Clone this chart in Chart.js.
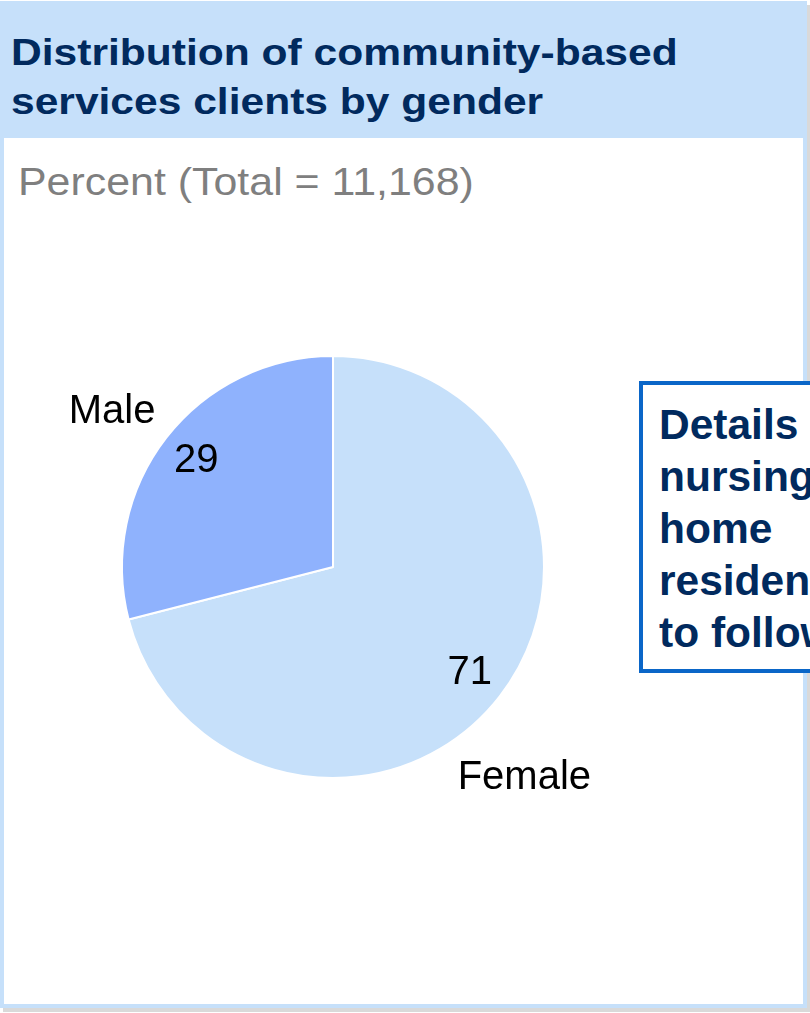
<!DOCTYPE html>
<html>
<head>
<meta charset="utf-8">
<script src="https://cdn.jsdelivr.net/npm/chart.js@4/dist/chart.umd.min.js"></script>
<style>
  html, body { margin: 0; padding: 0; background: #fff; overflow: hidden; }
  body { width: 810px; height: 1013px; position: relative; font-family: "Liberation Sans", Arial, Helvetica, sans-serif; }
  .card {
    position: absolute; left: 0; top: 1px; width: 807px; height: 1007px;
    background: #c6e0fa; box-shadow: 3px 4px 0 #d9d9d9;
  }
  .title {
    position: absolute; left: 11px; top: 27px; margin: 0;
    font-size: 37px; line-height: 49px; font-weight: bold; color: #012a5e;
    transform: scaleX(1.15); transform-origin: left top; white-space: nowrap;
  }
  .panel {
    position: absolute; left: 4px; top: 137px; width: 799px; height: 866px; background: #fff;
  }
  .subtitle {
    position: absolute; left: 14px; top: 24px;
    font-size: 39px; line-height: 39px; color: #7f7f7f;
    transform: scaleX(1.1); transform-origin: left top; white-space: nowrap;
  }
  #pie { position: absolute; left: 0; top: 0; }
  .note {
    position: absolute; left: 639px; top: 381px; width: 200px; height: 292px;
    border: 4px solid #0a66c8; background: #fff;
    padding: 14px 0 0 16px; box-sizing: border-box;
    font-size: 42.5px; line-height: 52px; font-weight: bold; color: #012a5e; white-space: nowrap;
  }
</style>
</head>
<body>
<div class="card">
  <div class="title">Distribution of community-based<br>services clients by gender</div>
  <div class="panel">
    <div class="subtitle">Percent (Total = 11,168)</div>
    <canvas id="pie" width="799" height="866"></canvas>
  </div>
</div>
<div class="note">Details on<br>nursing<br>home<br>residents<br>to follow</div>

<script>
const categories = ["Female", "Male"];
const percents = [71, 29];
const sliceColors = ["#c6e0fa", "#8fb2fd"];

// where the category names sit relative to each slice (radius factor, extra degrees)
const namePlacement = [
    { r: 1.35, da: 10 },
    { r: 1.28, da: -2.7 }
];

const pieLabels = {
    id: "pieLabels",
    afterDatasetsDraw(chart) {
        const ctx = chart.ctx;
        const meta = chart.getDatasetMeta(0);
        ctx.save();
        ctx.font = '40px "Liberation Sans", Arial, Helvetica, sans-serif';
        ctx.fillStyle = "#000000";
        ctx.textAlign = "center";
        ctx.textBaseline = "middle";
        meta.data.forEach((arc, i) => {
            const p = arc.getProps(["x", "y", "startAngle", "endAngle", "outerRadius"], true);
            const mid = (p.startAngle + p.endAngle) / 2;
            const rv = p.outerRadius * 0.82;
            ctx.fillText(String(percents[i]), p.x + Math.cos(mid) * rv, p.y + Math.sin(mid) * rv);

            const place = namePlacement[i];
            const a = mid + place.da * Math.PI / 180;
            const rn = p.outerRadius * place.r;
            ctx.fillText(categories[i], p.x + Math.cos(a) * rn, p.y + Math.sin(a) * rn);
        });
        ctx.restore();
    }
};

new Chart(document.getElementById("pie"), {
    type: "pie",
    data: {
        labels: categories,
        datasets: [{
            data: percents,
            backgroundColor: sliceColors,
            borderColor: "#ffffff",
            borderWidth: 2
        }]
    },
    options: {
        responsive: false,
        animation: false,
        layout: {
            padding: { left: 117, top: 217, right: 258, bottom: 225 }
        },
        plugins: {
            legend: { display: false },
            tooltip: { enabled: false }
        }
    },
    plugins: [pieLabels]
});
</script>
</body>
</html>
